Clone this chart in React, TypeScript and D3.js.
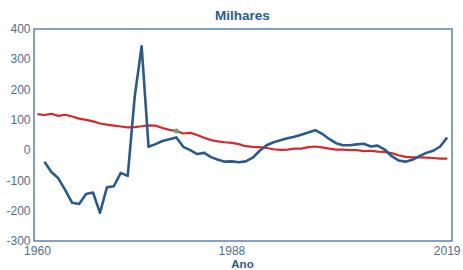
import React from "react";
import * as d3 from "d3";

// values in thousands
const redYears = d3.range(1960, 2020);
const redValues = [
  119, 116, 120, 113, 117, 111, 104, 100, 95, 88,
  84, 81, 78, 75, 76, 79, 82, 81, 73, 67,
  63, 55, 57, 50, 41, 33, 29, 26, 24, 20,
  13, 11, 10, 7, 3, 1, 2, 5, 5, 10,
  12, 9, 5, 2, 2, 0, 0, -3, -2, -5,
  -6, -10, -17, -22, -24, -24, -25, -26, -28, -28
];

const blueYears = d3.range(1961, 2020);
const blueValues = [
  -38, -72, -93, -132, -174, -178, -145, -140, -207,
  -123, -119, -75, -85, 176, 343, 11, 20, 30, 36,
  42, 11, 0, -13, -9, -23, -32, -38, -37, -40,
  -37, -25, -2, 16, 26, 33, 39, 44, 51, 58,
  66, 54, 37, 23, 16, 16, 19, 21, 12, 15,
  2, -20, -34, -38, -32, -20, -9, -2, 12, 42
];

const yTicks = [-300, -200, -100, 0, 100, 200, 300, 400];
const xTicks = [1960, 1988, 2019];
const markerYear = 1980;

const W = 463;
const H = 270;
const plot = { left: 34, right: 452, top: 29, bottom: 241 };

export default function App() {
  const x = d3.scaleLinear().domain([1959.5, 2019.7]).range([plot.left, plot.right]);
  const y = d3.scaleLinear().domain([-300, 400]).range([plot.bottom, plot.top]);

  const line = d3
    .line<[number, number]>()
    .x(d => x(d[0]))
    .y(d => y(d[1]));

  const red = redYears.map((yr, i) => [yr, redValues[i]] as [number, number]);
  const blue = blueYears.map((yr, i) => [yr, blueValues[i]] as [number, number]);
  const markerVal = redValues[redYears.indexOf(markerYear)];

  const font = "Liberation Sans, Arial, sans-serif";
  const labelColor = "#4d6f98";

  return (
    <svg
      width={W}
      height={H}
      style={{ position: "absolute", left: 0, top: 0, background: "#fff" }}
      fontFamily={font}
    >
      <text x={242.5} y={20} textAnchor="middle" fontSize={13.5} fontWeight="bold" fill="#2d5b8e">
        Milhares
      </text>

      <path d={line(red) || ""} fill="none" stroke="#d42a2e" strokeWidth={2.2} strokeLinejoin="round" />
      <path d={line(blue) || ""} fill="none" stroke="#2b5a8c" strokeWidth={2.6} strokeLinejoin="round" />
      <circle cx={x(markerYear)} cy={y(markerVal)} r={2.5} fill="#7f9a72" />

      <rect
        x={plot.left}
        y={plot.top}
        width={plot.right - plot.left}
        height={plot.bottom - plot.top}
        fill="none"
        stroke="#5a83b0"
        strokeWidth={1.5}
      />

      {yTicks.map(t => (
        <text key={t} x={30.5} y={y(t)} dy="0.35em" textAnchor="end" fontSize={12} fill={labelColor}>
          {t}
        </text>
      ))}
      {xTicks.map(t => (
        <text key={t} x={x(t)} y={254.5} textAnchor="middle" fontSize={12} fill={labelColor}>
          {t}
        </text>
      ))}

      <text x={242.5} y={268} textAnchor="middle" fontSize={11.5} fontWeight="bold" fill="#2d5b8e">
        Ano
      </text>
    </svg>
  );
}
